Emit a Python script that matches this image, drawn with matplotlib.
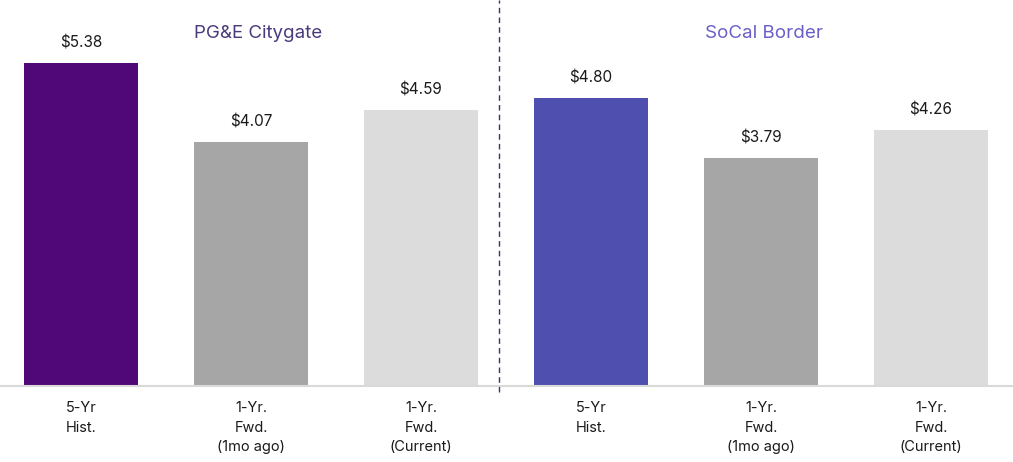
import matplotlib
matplotlib.use("Agg")
import matplotlib.pyplot as plt

plt.rcParams['font.family'] = ['Inter', 'DejaVu Sans']

categories = ["5-Yr\nHist.", "1-Yr.\nFwd.\n(1mo ago)", "1-Yr.\nFwd.\n(Current)",
              "5-Yr\nHist.", "1-Yr.\nFwd.\n(1mo ago)", "1-Yr.\nFwd.\n(Current)"]
values = [5.38, 4.07, 4.59, 4.80, 3.79, 4.26]
colors = ["#500778", "#a6a6a6", "#dcdcdc", "#4f4fb0", "#a6a6a6", "#dcdcdc"]
group_titles = ["PG&E Citygate", "SoCal Border"]
title_colors = ["#4b3a7c", "#6a5fc8"]

fig = plt.figure(figsize=(10.13, 4.62), dpi=100)
ax = fig.add_axes([0, 0.1645, 1, 0.8355])

x = list(range(len(values)))
ax.bar(x, values, width=0.67, color=colors, zorder=2)
for xi, v in zip(x, values):
    ax.annotate("${:.2f}".format(v), (xi, v), xytext=(0, 9), textcoords="offset points",
                ha="center", va="bottom", fontsize=11, color="#1a1a1a")

ax.set_xlim(-0.476, 5.482)
ax.set_ylim(0, 6.43)
ax.set_xticks(x)
ax.set_xticklabels(categories, fontsize=10.5, color="#1a1a1a", linespacing=1.5)
ax.tick_params(axis="x", length=0, pad=11)
ax.set_yticks([])
for s in ["top", "left", "right"]:
    ax.spines[s].set_visible(False)
ax.spines["bottom"].set_color("#d9d9d9")
ax.spines["bottom"].set_linewidth(1.5)

# divider between the two hubs
ax.plot([2.46, 2.46], [-0.1, 6.43], color="#4b2a6e", lw=1, ls=(0, (4, 3)), clip_on=False, zorder=3)

ax.text(1.04, 5.87, group_titles[0], ha="center", va="center", fontsize=13.5, color=title_colors[0])
ax.text(4.02, 5.87, group_titles[1], ha="center", va="center", fontsize=13.5, color=title_colors[1])

fig.savefig("out.png", dpi=100)
